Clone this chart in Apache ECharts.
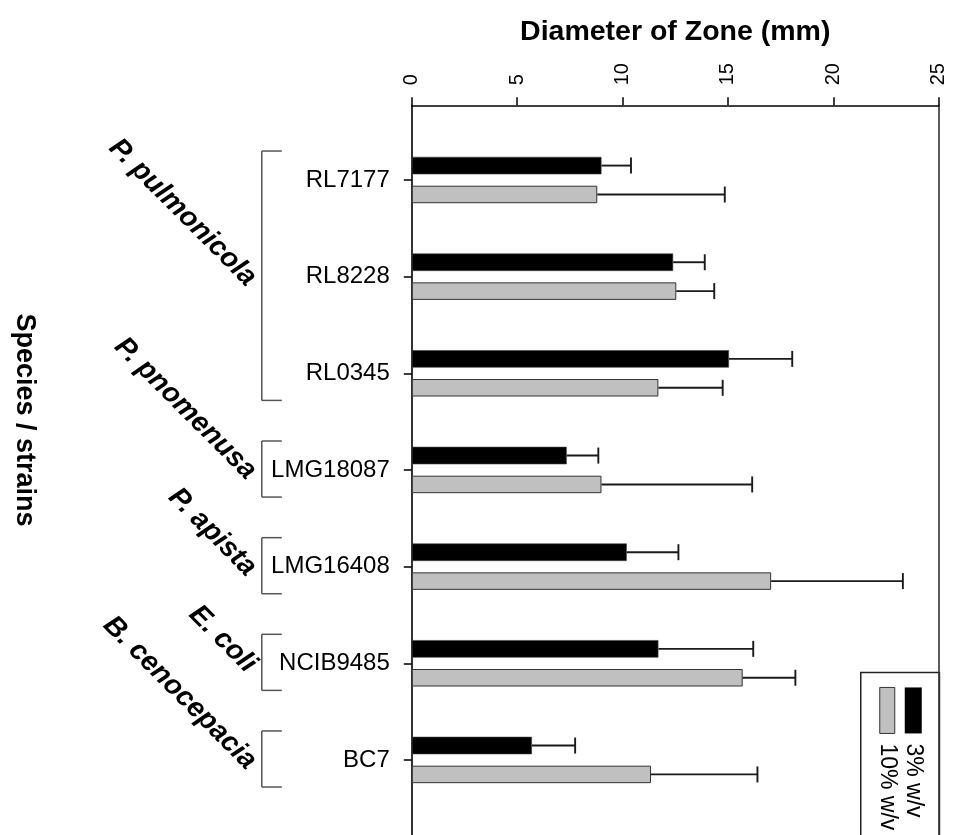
<!DOCTYPE html>
<html>
<head>
<meta charset="utf-8">
<title>Diameter of Zone</title>
<script src="https://cdn.jsdelivr.net/npm/echarts@6/dist/echarts.min.js"></script>
</head>
<body style="margin:0">
<div id="main" style="width:958px;height:835px;"></div>
<script type="text/javascript">
// strains, top to bottom
var strains = ['RL7177', 'RL8228', 'RL0345', 'LMG18087', 'LMG16408', 'NCIB9485', 'BC7'];
var seriesNames = ['3% w/v', '10% w/v'];
var w3 = [9.0, 12.4, 15.05, 7.35, 10.2, 11.7, 5.7];
var w3Err = [1.4, 1.5, 3.0, 1.5, 2.45, 4.5, 2.05];
var w10 = [8.8, 12.55, 11.7, 9.0, 17.05, 15.7, 11.35];
var w10Err = [6.05, 1.8, 3.05, 7.15, 6.25, 2.5, 5.05];
// species groups (first / last strain index)
var species = ['P. pulmonicola', 'P. pnomenusa', 'P. apista', 'E. coli', 'B. cenocepacia'];
var groupFrom = [0, 3, 4, 5, 6];
var groupTo = [2, 3, 4, 5, 6];
var valueTicks = [0, 5, 10, 15, 20, 25];

var FONT = '"Liberation Sans", Arial, Helvetica, sans-serif';
var BAR_W = 17.5;
var GAP = 11.4;

var myChart = echarts.init(document.getElementById('main'));

function errorBars(shift) {
    return function (params, api) {
        var cat = api.value(0);
        var p0 = api.coord([api.value(1), cat]);
        var p1 = api.coord([api.value(1) + api.value(2), cat]);
        var y = p0[1] + shift;
        var st = {stroke: '#1a1a1a', lineWidth: 1.9};
        return {
            type: 'group',
            children: [
                {type: 'line', shape: {x1: p0[0], y1: y, x2: p1[0], y2: y}, style: st},
                {type: 'line', shape: {x1: p1[0], y1: y - 8, x2: p1[0], y2: y + 8}, style: st}
            ]
        };
    };
}

function bracketItem(params, api) {
    var band = api.size([0, 1])[1];
    var yTop = api.coord([0, api.value(1)])[1] - band * 0.3;
    var yBot = api.coord([0, api.value(2)])[1] + band * 0.28;
    var left = api.coord([0, 0])[0];
    var xv = left - 150, xt = left - 130;
    var st = {stroke: '#555', lineWidth: 1.5};
    return {
        type: 'group',
        children: [
            {type: 'line', shape: {x1: xv, y1: yTop, x2: xv, y2: yBot}, style: st},
            {type: 'line', shape: {x1: xv, y1: yTop, x2: xt, y2: yTop}, style: st},
            {type: 'line', shape: {x1: xv, y1: yBot, x2: xt, y2: yBot}, style: st},
            {
                type: 'text',
                x: left - 160,
                y: (yTop + yBot) / 2 + 6,
                rotation: -Math.PI / 4,
                style: {
                    text: species[params.dataIndex],
                    font: 'italic bold 28px ' + FONT,
                    fill: '#000',
                    textAlign: 'right',
                    textVerticalAlign: 'middle'
                }
            }
        ]
    };
}

var option = {
    animation: false,
    backgroundColor: '#fff',
    textStyle: {fontFamily: FONT},
    grid: [
        {left: 411.8, right: 19.3, top: 105.3, bottom: 0, outerBoundsMode: 'none'},
        {left: 411.8, right: 19.3, top: 131.7, bottom: 26.7, outerBoundsMode: 'none'}
    ],
    xAxis: [{
        gridIndex: 0,
        type: 'value',
        position: 'top',
        min: 0,
        max: 25,
        interval: 5,
        name: 'Diameter of Zone (mm)',
        nameLocation: 'middle',
        nameGap: 59,
        nameTextStyle: {fontSize: 28.5, fontWeight: 'bold', color: '#000', fontFamily: FONT},
        axisLine: {show: true, onZero: false, lineStyle: {color: '#000', width: 1.6}},
        axisTick: {show: true, length: 8, lineStyle: {color: '#000', width: 1.5}},
        axisLabel: {
            rotate: -90, margin: 20, fontSize: 20, color: '#000', fontFamily: FONT,
            customValues: valueTicks
        },
        splitLine: {show: false}
    }, {
        gridIndex: 1,
        type: 'value',
        min: 0,
        max: 25,
        show: false
    }],
    yAxis: [{
        gridIndex: 0,
        type: 'value',
        position: 'left',
        min: 0,
        max: 1,
        axisLine: {show: true, onZero: false, lineStyle: {color: '#000', width: 1.6}},
        axisTick: {show: false},
        axisLabel: {show: false},
        splitLine: {show: false}
    }, {
        gridIndex: 0,
        type: 'value',
        position: 'right',
        min: 0,
        max: 1,
        axisLine: {show: true, onZero: false, lineStyle: {color: '#333', width: 1.6}},
        axisTick: {show: false},
        axisLabel: {show: false},
        splitLine: {show: false}
    }, {
        gridIndex: 1,
        type: 'category',
        inverse: true,
        data: strains,
        axisLine: {show: false},
        axisTick: {show: true, alignWithLabel: true, length: 8, lineStyle: {color: '#000', width: 1.5}},
        axisLabel: {margin: 22, fontSize: 24, color: '#000', fontFamily: FONT}
    }],
    series: [{
        name: seriesNames[0],
        type: 'bar',
        xAxisIndex: 1,
        yAxisIndex: 2,
        data: w3,
        barWidth: BAR_W,
        barGap: (GAP / BAR_W * 100).toFixed(0) + '%',
        itemStyle: {color: '#000', borderColor: '#444', borderWidth: 0.6}
    }, {
        name: seriesNames[1],
        type: 'bar',
        xAxisIndex: 1,
        yAxisIndex: 2,
        data: w10,
        barWidth: BAR_W,
        itemStyle: {color: '#c0c0c0', borderColor: '#333', borderWidth: 1}
    }, {
        type: 'custom',
        xAxisIndex: 1,
        yAxisIndex: 2,
        renderItem: errorBars(-(BAR_W + GAP) / 2),
        encode: {x: 1, y: 0},
        data: strains.map(function (s, i) { return [i, w3[i], w3Err[i]]; }),
        z: 3
    }, {
        type: 'custom',
        xAxisIndex: 1,
        yAxisIndex: 2,
        renderItem: errorBars((BAR_W + GAP) / 2),
        encode: {x: 1, y: 0},
        data: strains.map(function (s, i) { return [i, w10[i], w10Err[i]]; }),
        z: 3
    }, {
        type: 'custom',
        xAxisIndex: 1,
        yAxisIndex: 2,
        clip: false,
        silent: true,
        renderItem: bracketItem,
        encode: {x: 0, y: 1},
        data: species.map(function (s, i) { return [0, groupFrom[i], groupTo[i]]; })
    }],
    graphic: [{
        type: 'text',
        x: 24,
        y: 420,
        rotation: -Math.PI / 2,
        style: {
            text: 'Species / strains',
            font: 'bold 27px ' + FONT,
            fill: '#000',
            textAlign: 'center',
            textVerticalAlign: 'middle'
        }
    }, {
        type: 'group',
        left: 860,
        top: 671.7,
        z: 100,
        children: [{
            type: 'rect',
            shape: {x: 0, y: 0, width: 78.7, height: 175},
            style: {fill: '#fff', stroke: '#222', lineWidth: 1.5}
        }, {
            type: 'rect',
            shape: {x: 44, y: 15, width: 17, height: 46},
            style: {fill: '#000'}
        }, {
            type: 'rect',
            shape: {x: 19, y: 15, width: 15, height: 46},
            style: {fill: '#c0c0c0', stroke: '#333', lineWidth: 1}
        }, {
            type: 'text',
            x: 52.5,
            y: 71,
            rotation: -Math.PI / 2,
            style: {text: seriesNames[0], font: '23px ' + FONT, fill: '#000', textAlign: 'left', textVerticalAlign: 'middle'}
        }, {
            type: 'text',
            x: 26.5,
            y: 71,
            rotation: -Math.PI / 2,
            style: {text: seriesNames[1], font: '23px ' + FONT, fill: '#000', textAlign: 'left', textVerticalAlign: 'middle'}
        }]
    }]
};

myChart.setOption(option);
</script>
</body>
</html>
